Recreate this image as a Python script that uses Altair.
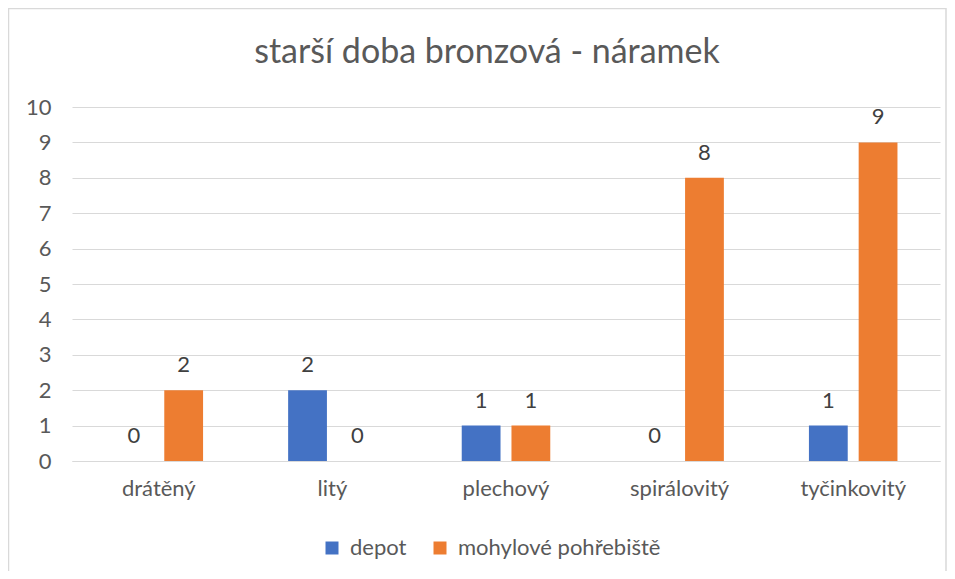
import altair as alt
import pandas as pd

categories = ["drátěný", "litý", "plechový", "spirálovitý", "tyčinkovitý"]
series = ["depot", "mohylové pohřebiště"]
depot = [0, 2, 1, 0, 1]
mohylove = [2, 0, 1, 8, 9]
colors = ["#4472C4", "#ED7D31"]

rows = []
for c, d, m in zip(categories, depot, mohylove):
    rows.append({"kategorie": c, "serie": series[0], "pocet": d})
    rows.append({"kategorie": c, "serie": series[1], "pocet": m})
df = pd.DataFrame(rows)

FONT = "Lato"
FS = 22

x = alt.X("kategorie:N", sort=categories, title=None,
          scale=alt.Scale(paddingInner=0.49, paddingOuter=0.245),
          axis=alt.Axis(labelAngle=0, labelFontSize=FS, labelColor="#595959",
                        labelFont=FONT, ticks=False, domain=True,
                        domainColor="#d9d9d9", labelPadding=17))
xoff = alt.XOffset("serie:N", sort=series,
                   scale=alt.Scale(paddingInner=0.22, paddingOuter=0))
y = alt.Y("pocet:Q", title=None,
          scale=alt.Scale(domain=[0, 10], nice=False),
          axis=alt.Axis(values=list(range(0, 11)), labelFontSize=FS,
                        labelColor="#595959", labelFont=FONT, ticks=False,
                        domain=False, gridColor="#d9d9d9", labelPadding=21))

bars = alt.Chart(df).mark_bar().encode(
    x=x, xOffset=xoff, y=y,
    color=alt.Color("serie:N", sort=series,
                    scale=alt.Scale(domain=series, range=colors),
                    legend=alt.Legend(title=None, orient="none", direction="horizontal",
                                      legendX=249, legendY=430,
                                      symbolType="square", symbolSize=169,
                                      symbolStrokeWidth=0,
                                      labelFontSize=FS, labelFont=FONT,
                                      labelColor="#595959", columnPadding=22,
                                      labelOffset=7, labelLimit=0)),
)

labels = alt.Chart(df).mark_text(baseline="alphabetic", dy=-18, fontSize=FS,
                                 font=FONT, color="#404040").encode(
    x=x, xOffset=xoff, y=y, text="pocet:Q"
)

border = alt.Chart(pd.DataFrame({"a": [0]})).mark_rect(
    fill=None, stroke="#d9d9d9", strokeWidth=1.5
).encode(
    x=alt.value(-63.5), x2=alt.value(874), y=alt.value(-98.5), y2=alt.value(480)
)

title = alt.Chart(pd.DataFrame({"t": ["starší doba bronzová - náramek"]})).mark_text(
    fontSize=34, font=FONT, color="#595959", baseline="alphabetic", align="center"
).encode(x=alt.value(415), y=alt.value(-44), text="t:N")

chart = alt.layer(border, bars, labels, title).properties(
    width=868, height=354,
    autosize=alt.AutoSizeParams(type="none"),
    padding={"left": 64, "top": 99, "right": 7, "bottom": 110},
).configure_view(stroke=None)

chart.save("out.html", embed_options={"renderer": "svg", "actions": False})
